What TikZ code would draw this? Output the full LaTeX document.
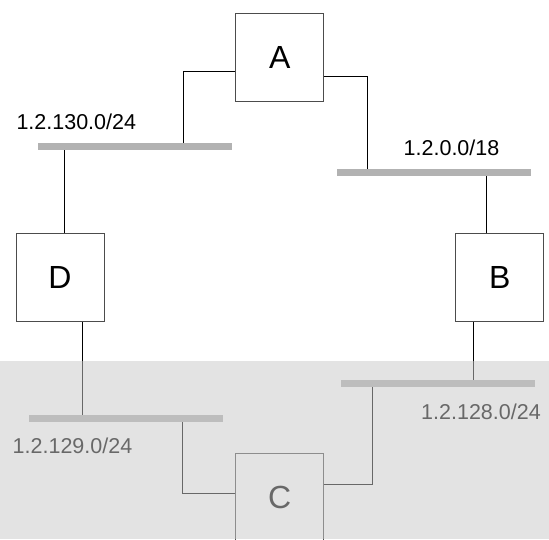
\documentclass[tikz,border=0pt]{standalone}
\usepackage{fontspec}
\setmainfont{Liberation Sans}
\usetikzlibrary{calc,positioning}
\definecolor{netgray}{gray}{0.70}
\definecolor{fade}{gray}{0.79}
\tikzset{
 router/.style={draw=black!70, line width=1pt, minimum width=88pt, minimum height=88pt, inner sep=0pt, font=\fontsize{32}{32}\selectfont},
 net/.style={fill=netgray, minimum width=193.5pt, minimum height=6.5pt, inner sep=0pt},
 netlabel/.style={anchor=base, inner sep=0pt, font=\fontsize{21.5}{21.5}\selectfont},
 link/.style={black, line width=0.8pt}
}
\begin{document}
\begin{tikzpicture}[x=1pt, y=-1pt]
 \useasboundingbox (0,0) rectangle (549,539);
 \node[router] (A) at (279.7,57.85) {A};
 \node[router] (B) at (499.7,277.85) {B};
 \node[router] (C) at (279.7,497.7) {C};
 \node[router] (D) at (60,277.7) {D};
 \node[net] (n130) at (134.8,146.3) {};
 \node[net] (n18) at (434,172.3) {};
 \node[net] (n129) at (125.9,418.5) {};
 \node[net] (n128) at (438.2,383.4) {};
 \node[netlabel] (l130) at (76.3,129) {1.2.130.0/24};
 \node[netlabel] (l18) at (451.5,155) {1.2.0.0/18};
 \node[netlabel] (l129) at (72.5,453.3) {1.2.129.0/24};
 \node[netlabel] (l128) at (481,419.3) {1.2.128.0/24};
 \draw[link] ([yshift=-13.2pt]A.west) -| ([xshift=48.2pt]n130.north);
 \draw[link] ([yshift=-18.2pt]A.east) -| ([xshift=-66.3pt]n18.north);
 \draw[link] ([xshift=4.3pt]D.north) -- ([xshift=4.3pt]D.north |- n130.south);
 \draw[link] ([xshift=-13pt]B.north) -- ([xshift=-13pt]B.north |- n18.south);
 \draw[link] ([xshift=22pt]D.south) -- ([xshift=22pt]D.south |- n129.north);
 \draw[link] ([xshift=-26.4pt]B.south) -- ([xshift=-26.4pt]B.south |- n128.north);
 \draw[link] ([yshift=4.4pt]C.west) -| ([xshift=56.8pt]n129.south);
 \draw[link] ([yshift=13.7pt]C.east) -| ([xshift=-66.2pt]n128.south);
 \fill[fade, opacity=0.52] (0,361) rectangle (549,539);
\end{tikzpicture}
\end{document}
